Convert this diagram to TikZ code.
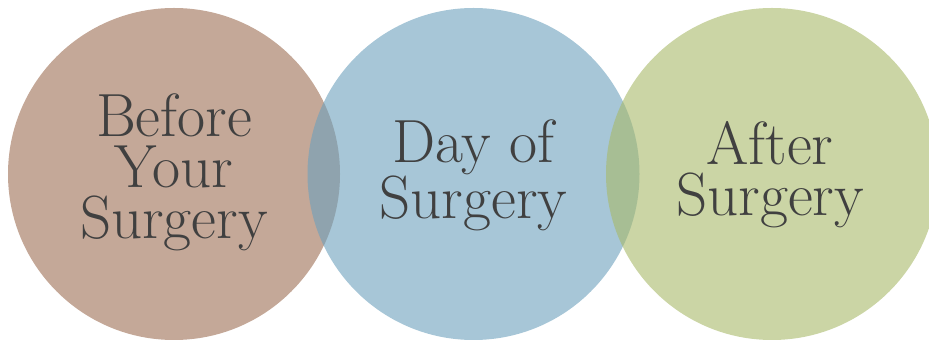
\documentclass[tikz,border=0pt]{standalone}
\usepackage{tikz}
\colorlet{textcol}{black!75!white}
\definecolor{beforecol}{RGB}{157,110,83}
\definecolor{daycol}{RGB}{108,160,188}
\definecolor{aftercol}{RGB}{168,185,105}
\tikzset{
  phase/.style={circle, draw=none, minimum size=332pt, inner sep=0pt,
    fill opacity=0.6, text opacity=1},
  phasetext/.style={align=center, inner sep=0pt, text=textcol,
    font=\fontsize{61}{51}\selectfont}
}

\begin{document}
\begin{tikzpicture}[x=1pt, y=1pt]

  % Frame of the page.
  \useasboundingbox (0,0) rectangle (929,342);

  % Phase circles, left to right.
  \node[phase, fill=beforecol] (before) at (174,168) {};
  \node[phase, fill=daycol]    (day)    at (473.5,168) {};
  \node[phase, fill=aftercol]  (after)  at (772,168) {};

  % Phase labels.
  \node[phasetext] (beforelabel) at ([yshift=2pt]before.center) {Before\\Your\\Surgery};
  \node[phasetext] (daylabel)    at ([yshift=-1pt]day.center)    {Day of\\Surgery};
  \node[phasetext] (afterlabel)  at ([xshift=-2pt, yshift=-1pt]after.center) {After\\Surgery};

\end{tikzpicture}
\end{document}
